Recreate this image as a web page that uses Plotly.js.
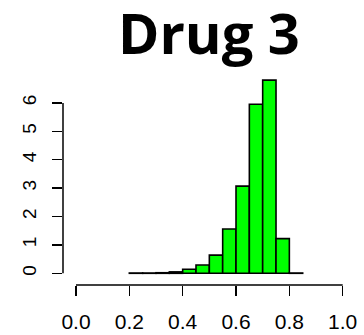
<!DOCTYPE html>
<html>
<head>
<meta charset="utf-8">
<script src="https://cdn.plot.ly/plotly-3.0.1.min.js"></script>
<style>html,body{margin:0;padding:0;background:#fff;}#chart{width:364px;height:335px;}</style>
</head>
<body>
<div id="chart"></div>
<script>
// Histogram of Drug 3 (density scale), bin width 0.05
const chartTitle = "Drug 3";
const binMids = [0.225, 0.275, 0.325, 0.375, 0.425, 0.475, 0.525, 0.575, 0.625, 0.675, 0.725, 0.775, 0.825];
const density = [0.01, 0.01, 0.02, 0.05, 0.14, 0.29, 0.64, 1.56, 3.07, 5.95, 6.80, 1.22, 0.01];
const binWidth = 0.05;
const xTickVals = [0, 0.2, 0.4, 0.6, 0.8, 1.0];
const xTickText = ["0.0", "0.2", "0.4", "0.6", "0.8", "1.0"];
const yTickVals = [0, 1, 2, 3, 4, 5, 6];
const yTickText = ["0", "1", "2", "3", "4", "5", "6"];

const trace = {
  type: "bar",
  x: binMids,
  y: density,
  width: binMids.map(() => binWidth),
  marker: { color: "#00ff00", line: { color: "#000000", width: 1.6 } },
  hoverinfo: "skip"
};

const layout = {
  width: 364, height: 335,
  margin: { l: 63, r: 14, t: 70, b: 50, pad: 0 },
  paper_bgcolor: "#ffffff", plot_bgcolor: "#ffffff",
  showlegend: false,
  bargap: 0,
  title: {
    text: "<b>" + chartTitle + "</b>",
    font: { family: "Open Sans", size: 56, color: "#000000" },
    x: 0.574, xref: "container", xanchor: "center",
    y: 0.84, yref: "container", yanchor: "bottom"
  },
  xaxis: {
    range: [-0.0487, 1.0274],
    tickmode: "array", tickvals: xTickVals, ticktext: xTickText,
    ticks: "outside", ticklen: 10, tickwidth: 1.5, tickcolor: "#000",
    showline: false, showgrid: false, zeroline: false,
    tickfont: { family: "Liberation Sans", size: 21, color: "#000" },
    ticklabelstandoff: 8,
    fixedrange: true
  },
  yaxis: {
    range: [-0.412, 7.158],
    tickmode: "array", tickvals: yTickVals, ticktext: yTickText,
    ticks: "outside", ticklen: 10, tickwidth: 1.5, tickcolor: "#000",
    showline: false, showgrid: false, zeroline: false,
    tickangle: -90,
    tickfont: { family: "Liberation Sans", size: 19, color: "#000" },
    ticklabelstandoff: 8,
    fixedrange: true
  },
  shapes: [
    { type: "line", xref: "x", yref: "paper", x0: xTickVals[0], x1: xTickVals[xTickVals.length - 1], y0: 0, y1: 0, line: { color: "#000", width: 1.5 } },
    { type: "line", xref: "paper", yref: "y", x0: 0, x1: 0, y0: yTickVals[0], y1: yTickVals[yTickVals.length - 1], line: { color: "#000", width: 1.5 } }
  ]
};

Plotly.newPlot("chart", [trace], layout, { staticPlot: true, displayModeBar: false });
</script>
</body>
</html>
